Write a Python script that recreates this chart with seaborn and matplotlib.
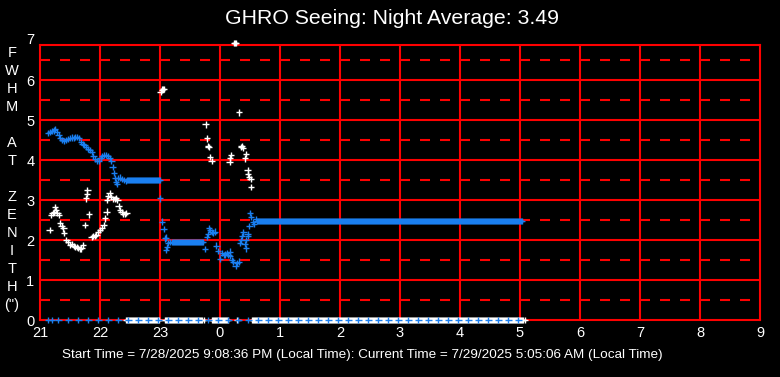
import numpy as np
import pandas as pd
import matplotlib
matplotlib.use("Agg")
import matplotlib.pyplot as plt
import seaborn as sns

# hours after 21:00 on 7/28; hours < 12 belong to the next morning
blue_hours = [21.14, 21.17, 21.20, 21.23, 21.25, 21.28, 21.31, 21.34, 21.37, 21.40,
              21.43, 21.46, 21.50, 21.53, 21.56, 21.59, 21.62, 21.65, 21.68, 21.71,
              21.74, 21.77, 21.80, 21.83, 21.86, 21.89, 21.92, 21.95, 21.98, 22.01,
              22.04, 22.07, 22.10, 22.13, 22.16, 22.19, 22.21, 22.23, 22.25, 22.27,
              22.28, 22.30, 22.33, 22.36, 22.40, 22.43,
              23.00, 23.03, 23.06, 23.08, 23.10, 23.10, 23.12, 23.14, 23.17,
              23.75, 23.78, 23.80, 23.82, 23.84, 23.86, 23.89, 23.92, 23.94, 23.97,
              0.00, 0.03, 0.06, 0.08, 0.12, 0.14, 0.16, 0.17, 0.20, 0.22, 0.26, 0.28,
              0.31, 0.33, 0.35, 0.37, 0.39, 0.41, 0.43, 0.43, 0.46, 0.47, 0.49, 0.50,
              0.52, 0.55, 0.57, 0.60]
blue_fwhm = [4.67, 4.70, 4.72, 4.74, 4.77, 4.70, 4.62, 4.55, 4.50, 4.47,
             4.50, 4.53, 4.55, 4.56, 4.55, 4.57, 4.58, 4.55, 4.45, 4.40,
             4.37, 4.33, 4.27, 4.25, 4.20, 4.10, 4.02, 3.97, 3.98, 4.05,
             4.10, 4.12, 4.12, 4.10, 4.05, 3.97, 3.83, 3.68, 3.55, 3.45,
             3.40, 3.55, 3.56, 3.52, 3.50, 3.48,
             3.04, 2.46, 2.27, 2.04, 2.06, 1.75, 1.83, 1.92, 1.95,
             1.77, 2.07, 2.15, 2.29, 2.25, 2.20, 2.17, 2.21, 1.86, 1.72,
             1.52, 1.67, 1.62, 1.64, 1.67, 1.62, 1.71, 1.60, 1.50, 1.46, 1.36, 1.42,
             1.46, 1.92, 2.00, 2.10, 2.19, 1.90, 1.79, 2.00, 2.15, 2.10, 2.35, 2.67,
             2.58, 2.45, 2.40, 2.52]

# flat stretches of the blue series: start hour, end hour, value (sampled each minute)
blue_runs = [(22.45, 23.00, 3.50), (23.20, 23.72, 1.95), (0.62, 5.05, 2.48)]

white_hours = [21.16, 21.19, 21.21, 21.23, 21.25, 21.27, 21.29, 21.31, 21.33, 21.36,
               21.39, 21.40, 21.44, 21.47, 21.50, 21.53, 21.56, 21.59, 21.61, 21.64,
               21.67, 21.69, 21.72, 21.75, 21.77, 21.78, 21.79, 21.82, 21.86, 21.88,
               21.91, 21.94, 21.97, 22.00, 22.03, 22.06, 22.08, 22.11, 22.12, 22.14,
               22.16, 22.19, 22.22, 22.25, 22.27, 22.29, 22.31, 22.33, 22.36, 22.39,
               22.42, 22.44,
               23.01, 23.03, 23.05, 23.07,
               23.76, 23.78, 23.80, 23.81, 23.83, 23.86,
               0.16, 0.17, 0.18, 0.24, 0.25, 0.26, 0.32, 0.35, 0.36, 0.38, 0.42, 0.43,
               0.46, 0.47, 0.48, 0.51, 0.52]
white_fwhm = [2.25, 2.62, 2.67, 2.70, 2.83, 2.75, 2.67, 2.62, 2.42, 2.35,
              2.29, 2.17, 2.00, 1.95, 1.88, 1.90, 1.85, 1.82, 1.83, 1.80,
              1.78, 1.79, 1.88, 2.37, 3.04, 3.15, 3.25, 2.64, 2.08, 2.10,
              2.10, 2.12, 2.20, 2.25, 2.30, 2.37, 2.54, 2.71, 3.00, 3.10,
              3.18, 3.08, 3.03, 3.02, 3.05, 3.00, 2.85, 2.75, 2.70, 2.65,
              2.65, 2.67,
              5.71, 5.76, 5.78, 5.77,
              4.89, 4.54, 4.35, 4.33, 4.07, 3.97,
              3.96, 4.05, 4.12, 6.93, 6.93, 6.93, 5.19, 4.33, 4.35, 4.30, 4.04, 4.15,
              3.74, 3.65, 3.58, 3.53, 3.32]

# stretches where the white series reads zero (sampled each minute)
white_zero_runs = [(22.44, 23.00), (23.09, 23.72), (23.86, 0.14), (0.53, 5.05)]
white_zero_single = [23.73, 0.29, 5.08]
# blue zero readings, every 10 minutes from the start time
blue_zero_start, blue_zero_end = 21.14, 5.05
blue_zero_extra = [21.20]

x_ticks = list(range(21, 34))
x_labels = ["21", "22", "23", "0", "1", "2", "3", "4", "5", "6", "7", "8", "9"]
ylabel_rows = ["F", "W", "H", "M", "", "A", "T", "", "Z", "E", "N", "I", "T", "H", "(\")"]

BLUE = "#1a7ff0"
RED = "#ff0000"


def cont(h):
    return h + 24 if h < 12 else h


def run_hours(a, b, step):
    a, b = cont(a), cont(b)
    return list(np.arange(a, b + 1e-9, step))


rows = []
for h, v in zip(blue_hours, blue_fwhm):
    rows.append((cont(h), v, "blue"))
for a, b, v in blue_runs:
    rows += [(h, v, "blue") for h in run_hours(a, b, 1 / 60)]
for a, b in white_zero_runs:
    rows += [(h, 0.0, "white") for h in run_hours(a, b, 1 / 60)]
for h in white_zero_single:
    rows.append((cont(h), 0.0, "white"))
for h, v in zip(white_hours, white_fwhm):
    rows.append((cont(h), v, "white"))
for h in run_hours(blue_zero_start, blue_zero_end, 1 / 6) + blue_zero_extra:
    rows.append((h, 0.0, "blue"))
df = pd.DataFrame(rows, columns=["hour", "fwhm", "series"])

sns.set_style("dark")
plt.rcParams["font.family"] = ["Liberation Sans", "DejaVu Sans"]

fig = plt.figure(figsize=(7.8, 3.77), dpi=100, facecolor="black")
ax = fig.add_axes([40 / 780, 1 - 320 / 377, 720 / 780, 275 / 377])
ax.set_facecolor("black")

for y in range(1, 7):
    ax.axhline(y, color=RED, lw=1.5, zorder=1)
for y in np.arange(0.5, 7, 1.0):
    ax.axhline(y, color=RED, lw=1.5, dashes=(4.8, 4.8), zorder=1)
for x in range(22, 33):
    ax.axvline(x, color=RED, lw=1.5, zorder=1)
for s in ax.spines.values():
    s.set_color(RED)
    s.set_linewidth(1.5)
    s.set_visible(True)

sns.scatterplot(data=df, x="hour", y="fwhm", hue="series",
                palette={"blue": BLUE, "white": "white"}, hue_order=["blue", "white"],
                marker="+", s=22, linewidth=1.0, legend=False, ax=ax,
                zorder=3, clip_on=False)

ax.set_xlim(21, 33)
ax.set_ylim(0, 6.875)
ax.set_xticks(x_ticks)
ax.set_xticklabels(x_labels)
ax.set_yticks(range(0, 7))
ax.tick_params(colors="white", labelsize=10.5, length=0)
ax.tick_params(axis="x", pad=4)
ax.tick_params(axis="y", pad=4)
ax.grid(False)
ax.set_xlabel("")
ax.set_ylabel("")
ax.text(-0.008, 7, "7", transform=ax.get_yaxis_transform(), ha="right", va="center",
        color="white", fontsize=10.5, clip_on=False)

for i, letter in enumerate(ylabel_rows):
    fig.text(12 / 780, 1 - (53 + 18 * i) / 377, letter, ha="center", va="center",
             color="white", fontsize=10.5)

fig.text(392 / 780, 1 - 18 / 377, "GHRO Seeing: Night Average: 3.49", ha="center",
         va="center", color="white", fontsize=15.3)
fig.text(362 / 780, 1 - 355 / 377,
         "Start Time = 7/28/2025 9:08:36 PM (Local Time): Current Time = 7/29/2025 5:05:06 AM (Local Time)",
         ha="center", va="center", color="white", fontsize=9.7)

fig.savefig("out.png", dpi=100, facecolor="black")
